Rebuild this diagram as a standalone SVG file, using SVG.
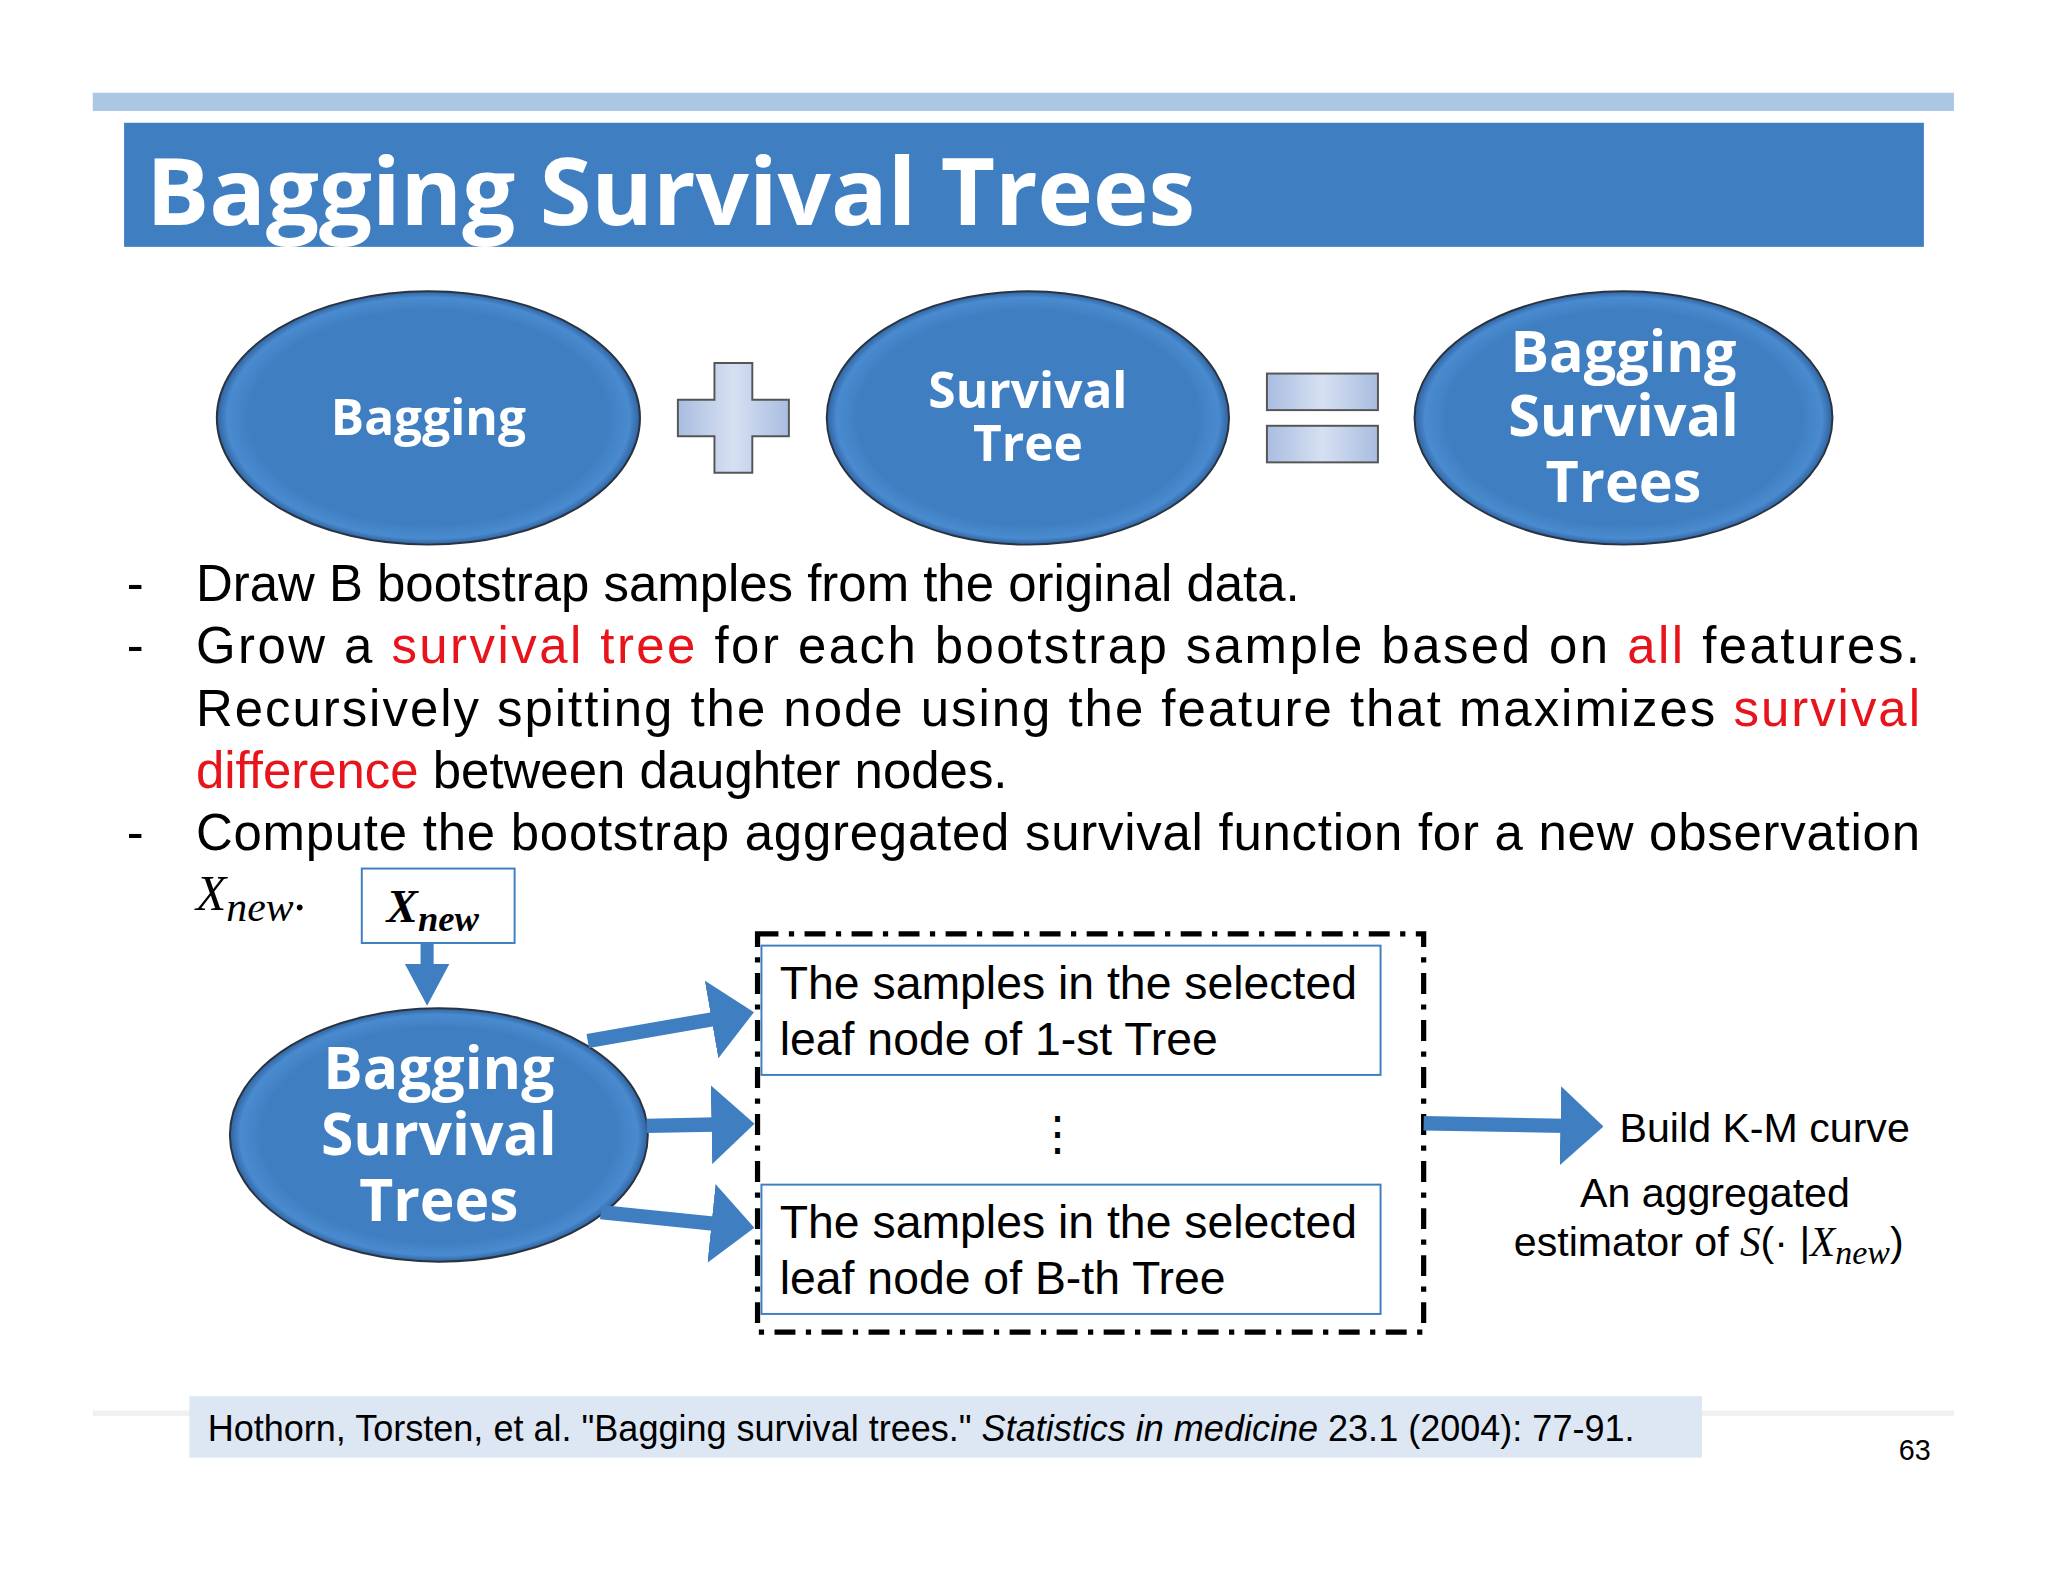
<svg xmlns="http://www.w3.org/2000/svg" width="2048" height="1582" viewBox="0 0 2048 1582">
<defs>
<style>
.t{font-family:"Liberation Sans",Arial,sans-serif;fill:#000}
.w{font-family:"Open Sans","Liberation Sans",sans-serif;font-weight:bold;fill:#fff;text-anchor:middle}
.r{fill:#e8141b}
.m{font-family:"Liberation Serif","DejaVu Serif",serif;font-style:italic}
.ell{fill:url(#g);stroke:#2a3340;stroke-width:1.5}
.fat{stroke:#3f7fc1;stroke-width:11;fill:none;marker-end:url(#ah)}
.bx{fill:#fff;stroke:#3f7fc1;stroke-width:1.5}
.sym{fill:url(#lg);stroke:#555;stroke-width:1.5}
</style>
<radialGradient id="g" cx="0.5" cy="0.5" r="0.5">
<stop offset="0.85" stop-color="#3f7fc1"/><stop offset="0.95" stop-color="#4a8bd0"/><stop offset="1" stop-color="#2f63a0"/>
</radialGradient>
<linearGradient id="lg" x1="0" y1="0" x2="1" y2="0">
<stop offset="0" stop-color="#a9bde0"/><stop offset="0.5" stop-color="#d6e0f2"/><stop offset="1" stop-color="#a9bde0"/>
</linearGradient>
<marker id="ah" viewBox="0 0 3 5.5" refX="0.3" refY="2.75" markerWidth="3" markerHeight="5.5" orient="auto" markerUnits="strokeWidth">
<path d="M0,0 L3,2.75 L0,5.5 Z" fill="#3f7fc1"/>
</marker>
</defs>
<rect width="2048" height="1582" fill="#fff"/>
<g transform="scale(1.3061)">
<g id="header">
<rect x="71" y="71" width="1425" height="14" fill="#abc7e4"/>
<rect x="95" y="94" width="1378" height="95" fill="#3f7fc1"/>
<text x="112" y="172" font-family="'Open Sans','Liberation Sans',sans-serif" font-weight="bold" font-size="72" fill="#fff" textLength="803" lengthAdjust="spacingAndGlyphs">Bagging Survival Trees</text>
</g>
<g id="n-bagging"><ellipse class="ell" cx="328" cy="320" rx="162" ry="97"/><text class="w" x="328" y="333" font-size="38">Bagging</text></g>
<g id="plus"><path class="sym" d="M547,278 H576 V306 H604 V334 H576 V362 H547 V334 H519 V306 H547 Z"/></g>
<g id="n-survtree"><ellipse class="ell" cx="787" cy="320" rx="154" ry="97"/><text class="w" x="787" y="312" font-size="38">Survival</text><text class="w" x="787" y="353" font-size="38">Tree</text></g>
<g id="equals"><rect class="sym" x="970" y="286" width="85" height="28"/><rect class="sym" x="970" y="326" width="85" height="28"/></g>
<g id="n-bst"><ellipse class="ell" cx="1243" cy="320" rx="160" ry="97"/><text class="w" x="1243" y="285" font-size="44">Bagging</text><text class="w" x="1243" y="334" font-size="44">Survival</text><text class="w" x="1243" y="384" font-size="44">Trees</text></g>
<g id="bullets" font-size="39">
<text class="t" x="97" y="460">-</text><text class="t" x="150" y="460">Draw B bootstrap samples from the original data.</text>
<text class="t" x="97" y="508">-</text><text class="t" x="150" y="508" textLength="1320" lengthAdjust="spacing">Grow a <tspan class="r">survival tree</tspan> for each bootstrap sample based on <tspan class="r">all</tspan> features.</text>
<text class="t" x="150" y="556" textLength="1320" lengthAdjust="spacing">Recursively spitting the node using the feature that maximizes <tspan class="r">survival</tspan></text>
<text class="t" x="150" y="603"><tspan class="r">difference</tspan> between daughter nodes.</text>
<text class="t" x="97" y="651">-</text><text class="t" x="150" y="651" textLength="1320" lengthAdjust="spacing">Compute the bootstrap aggregated survival function for a new observation</text>
<text class="m" x="150" y="697" font-size="38">X<tspan font-size="32" dy="8">new</tspan><tspan font-style="normal" dy="-8">.</tspan></text>
</g>
<g id="n-xnew"><rect class="bx" x="277" y="665" width="117" height="57"/><text class="m" x="296" y="706" font-size="36" font-weight="bold">X<tspan font-size="28" dy="7">new</tspan></text></g>
<g id="n-bst2"><ellipse class="ell" cx="336" cy="869" rx="160" ry="97"/><text class="w" x="336" y="834" font-size="45">Bagging</text><text class="w" x="336" y="884" font-size="45">Survival</text><text class="w" x="336" y="935" font-size="45">Trees</text></g>
<g id="n-group"><rect x="580" y="715" width="510" height="305" fill="none" stroke="#000" stroke-width="4" stroke-dasharray="16,8,4,8"/></g>
<g id="n-box1"><rect class="bx" x="583" y="724" width="474" height="99"/><text class="t" x="597" y="765" font-size="35.5">The samples in the selected</text><text class="t" x="597" y="808" font-size="35.5">leaf node of 1-st Tree</text></g>
<g id="dots"><text class="t" x="810" y="880" font-size="36" text-anchor="middle">⋮</text></g>
<g id="n-box2"><rect class="bx" x="583" y="907" width="474" height="99"/><text class="t" x="597" y="948" font-size="35.5">The samples in the selected</text><text class="t" x="597" y="991" font-size="35.5">leaf node of B-th Tree</text></g>
<g id="connectors">
<path d="M322,722 H332 V738 H344 L327,770 L310,738 H322 Z" fill="#3f7fc1"/>
<line class="fat" x1="450" y1="797" x2="548" y2="780"/>
<line class="fat" x1="495" y1="862" x2="548" y2="861"/>
<line class="fat" x1="460" y1="928" x2="548" y2="937"/>
<line class="fat" x1="1090" y1="860" x2="1198" y2="862"/>
</g>
<g id="labels">
<text class="t" x="1240" y="874" font-size="31.5">Build K-M curve</text>
<text class="t" x="1313" y="924" font-size="31.5" text-anchor="middle">An aggregated</text>
<text class="t" x="1159" y="962" font-size="31.5">estimator of <tspan class="m">S</tspan>(· |<tspan class="m">X<tspan font-size="26" dy="6">new</tspan></tspan><tspan dy="-6">)</tspan></text>
</g>
<g id="footer">
<rect x="71" y="1080" width="1425" height="4" fill="#f0f0f0"/>
<rect x="145" y="1069" width="1158" height="47" fill="#dde6f3"/>
<text class="t" x="159" y="1103" font-size="27.6">Hothorn, Torsten, et al. "Bagging survival trees." <tspan font-style="italic">Statistics in medicine</tspan> 23.1 (2004): 77-91.</text>
<text class="t" x="1466" y="1118" font-size="22" text-anchor="middle">63</text>
</g>
</g>
</svg>
